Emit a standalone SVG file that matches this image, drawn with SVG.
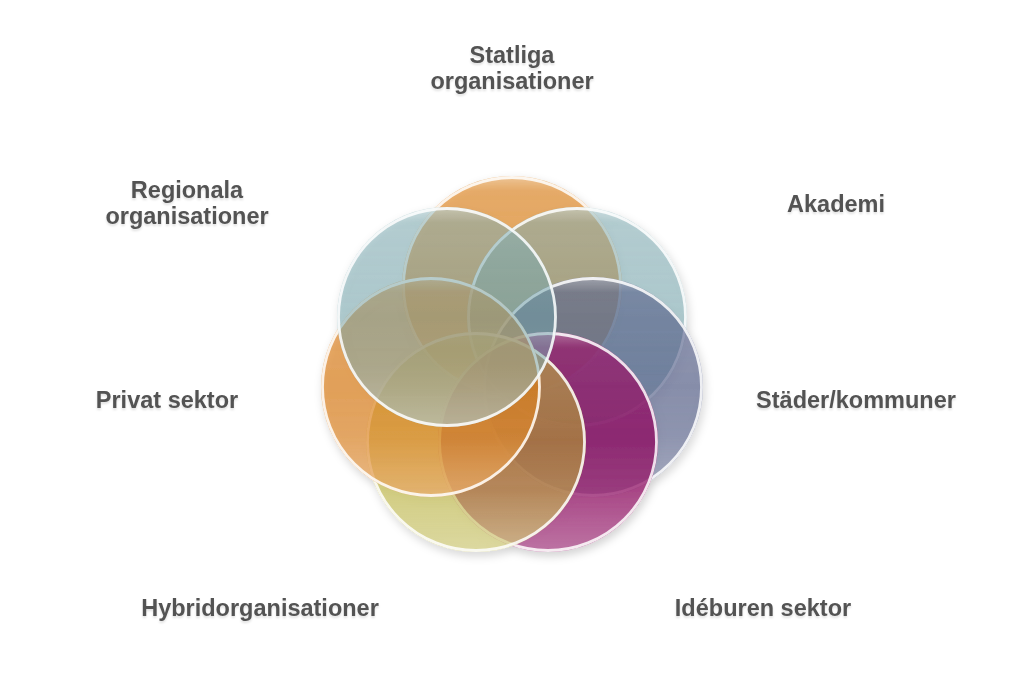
<svg xmlns="http://www.w3.org/2000/svg" width="1024" height="683" viewBox="0 0 1024 683">
<style>
.lbl{font-family:"Liberation Sans",Arial,sans-serif;font-weight:bold;font-size:23.5px;fill:#535353;text-anchor:middle}
.rim{fill:none;stroke:#ffffff;stroke-opacity:0.85;stroke-width:2.8}
.gloss{fill:url(#gloss)}
</style>
<defs>
<linearGradient id="gloss" x1="0" y1="0" x2="0" y2="1">
<stop offset="0" stop-color="#fff" stop-opacity="0.35"/>
<stop offset="0.07" stop-color="#fff" stop-opacity="0.08"/>
<stop offset="0.5" stop-color="#fff" stop-opacity="0"/>
<stop offset="0.72" stop-color="#fff" stop-opacity="0.06"/>
<stop offset="1" stop-color="#fff" stop-opacity="0.28"/>
</linearGradient>
<filter id="sh" x="-10%" y="-10%" width="130%" height="130%">
<feDropShadow dx="2" dy="4" stdDeviation="4" flood-color="#000" flood-opacity="0.2"/>
</filter>
<filter id="tsh" x="-5%" y="-20%" width="110%" height="150%">
<feDropShadow dx="0" dy="2" stdDeviation="1.2" flood-color="#000" flood-opacity="0.12"/>
</filter>
</defs>
<rect width="1024" height="683" fill="#ffffff"/>
<g id="circles" filter="url(#sh)">
<g id="statliga">
<circle cx="512" cy="286" r="110" fill="#DE8622" fill-opacity="0.7"/>
<circle cx="512" cy="286" r="110" class="gloss"/>
<circle cx="512" cy="286" r="108.5" class="rim"/>
</g>
<g id="akademi">
<circle cx="577" cy="317" r="110" fill="#6DA2A9" fill-opacity="0.5"/>
<circle cx="577" cy="317" r="110" class="gloss"/>
<circle cx="577" cy="317" r="108.5" class="rim"/>
</g>
<g id="stader">
<circle cx="593" cy="387" r="110" fill="#444D7C" fill-opacity="0.58"/>
<circle cx="593" cy="387" r="110" class="gloss"/>
<circle cx="593" cy="387" r="108.5" class="rim"/>
</g>
<g id="ideburen">
<circle cx="548" cy="442" r="110" fill="#8D085F" fill-opacity="0.75"/>
<circle cx="548" cy="442" r="110" class="gloss"/>
<circle cx="548" cy="442" r="108.5" class="rim"/>
</g>
<g id="hybrid">
<circle cx="476" cy="442" r="110" fill="#B6AD24" fill-opacity="0.55"/>
<circle cx="476" cy="442" r="110" class="gloss"/>
<circle cx="476" cy="442" r="108.5" class="rim"/>
</g>
<g id="privat">
<circle cx="431" cy="387" r="110" fill="#DB7F1B" fill-opacity="0.68"/>
<circle cx="431" cy="387" r="110" class="gloss"/>
<circle cx="431" cy="387" r="108.5" class="rim"/>
</g>
<g id="regionala">
<circle cx="447" cy="317" r="110" fill="#6DA2A9" fill-opacity="0.5"/>
<circle cx="447" cy="317" r="110" class="gloss"/>
<circle cx="447" cy="317" r="108.5" class="rim"/>
</g>
</g>
<g id="labels" filter="url(#tsh)">
<g id="label-statliga"><text class="lbl" x="512" y="63">Statliga</text><text class="lbl" x="512" y="89">organisationer</text></g>
<g id="label-akademi"><text class="lbl" x="836" y="212">Akademi</text></g>
<g id="label-stader"><text class="lbl" x="856" y="408">Städer/kommuner</text></g>
<g id="label-ideburen"><text class="lbl" x="763" y="616">Idéburen sektor</text></g>
<g id="label-hybrid"><text class="lbl" x="260" y="616">Hybridorganisationer</text></g>
<g id="label-privat"><text class="lbl" x="167" y="408">Privat sektor</text></g>
<g id="label-regionala"><text class="lbl" x="187" y="198">Regionala</text><text class="lbl" x="187" y="224">organisationer</text></g>
</g>
</svg>
